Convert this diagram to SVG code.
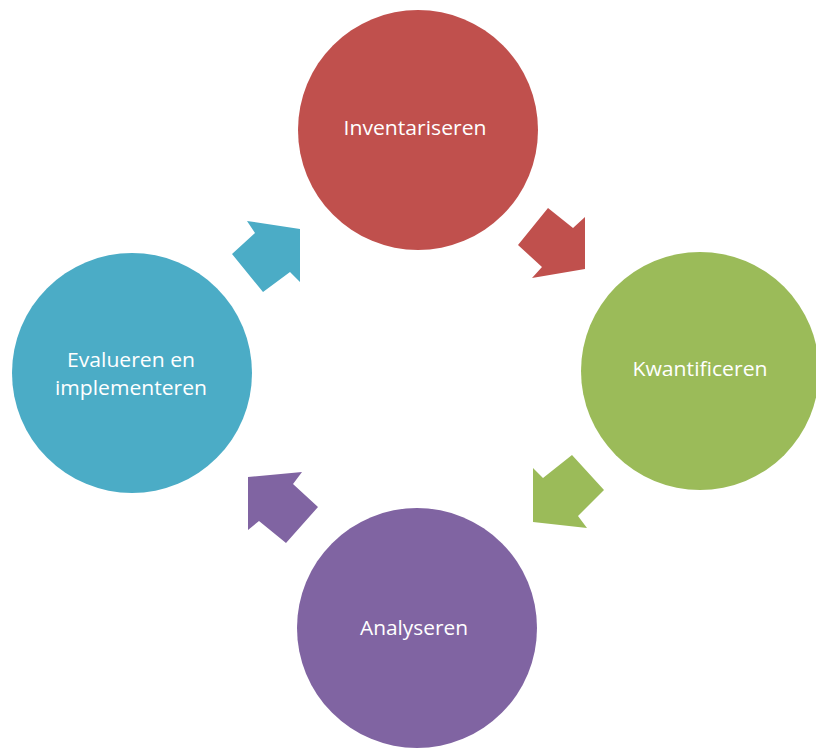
<svg xmlns="http://www.w3.org/2000/svg" width="816" height="749" viewBox="0 0 816 749">
<style>
.lbl{font-family:"Open Sans","Liberation Sans",sans-serif;font-size:20px;fill:#ffffff;text-anchor:middle}
</style>
<rect width="816" height="749" fill="#ffffff"/>
<g id="connectors">
<polygon fill="#4BACC6" points="247,221 300,229 300,282 290,272 263,292 232,254 255,233"/>
<polygon fill="#C0504D" points="548,208 573,228 585,217 585,269 532,278 542,267 518,245"/>
<polygon fill="#9BBB59" points="572,455 604,490 578,516 587,528 533,522 533,468 543,478"/>
<polygon fill="#8064A2" points="248,477 302,472 293,484 318,507 286,543 259,521 248,530"/>
</g>
<g id="inventariseren">
<circle cx="418" cy="130" r="120" fill="#C0504D"/>
<text class="lbl" x="415" y="135" textLength="143" lengthAdjust="spacingAndGlyphs">Inventariseren</text>
</g>
<g id="kwantificeren">
<circle cx="700" cy="371" r="119" fill="#9BBB59"/>
<text class="lbl" x="700" y="376" textLength="135" lengthAdjust="spacingAndGlyphs">Kwantificeren</text>
</g>
<g id="analyseren">
<circle cx="417" cy="628" r="120" fill="#8064A2"/>
<text class="lbl" x="414" y="635" textLength="108" lengthAdjust="spacingAndGlyphs">Analyseren</text>
</g>
<g id="evalueren">
<circle cx="132" cy="373" r="120" fill="#4BACC6"/>
<text class="lbl" x="131" y="367" textLength="128" lengthAdjust="spacingAndGlyphs">Evalueren en</text>
<text class="lbl" x="131" y="395" textLength="152" lengthAdjust="spacingAndGlyphs">implementeren</text>
</g>
</svg>
